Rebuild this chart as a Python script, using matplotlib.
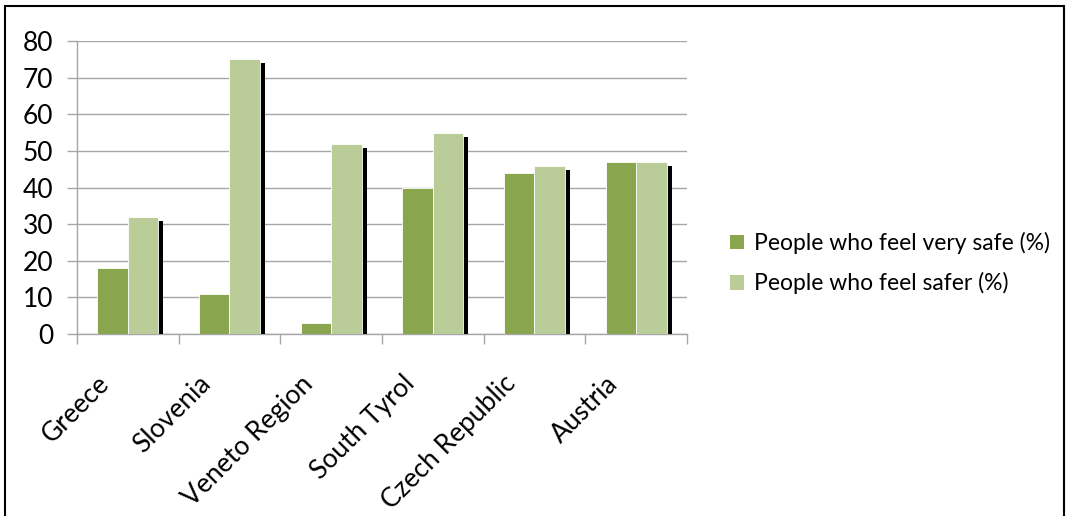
import matplotlib
matplotlib.use("Agg")
import matplotlib.pyplot as plt
import matplotlib.patheffects as pe
from matplotlib.patches import Rectangle, Patch
import numpy as np

plt.rcParams['font.family'] = ['Lato', 'DejaVu Sans']

categories = ['Greece', 'Slovenia', 'Veneto Region', 'South Tyrol', 'Czech Republic', 'Austria']
very_safe = [18, 11, 3, 40, 44, 47]
safer = [32, 75, 52, 55, 46, 47]
labels = ['People who feel very safe (%)', 'People who feel safer (%)']

dark_green = '#89A54E'
light_green = '#BACD98'
grid_col = '#A6A6A6'

fig = plt.figure(figsize=(10.66, 5.16), dpi=100)
ax = fig.add_axes([0.0722, 0.3527, 0.5722, 0.5678])

x = np.arange(len(categories))
w = 0.3
# drop shadow on every bar (the dark bar's shadow hides behind the light bar)
shadow = [pe.SimplePatchShadow(offset=(3.6, -2.9), shadow_rgbFace='black', alpha=1.0), pe.Normal()]

b1 = ax.bar(x - w / 2, very_safe, width=w, color=dark_green, edgecolor='white',
            linewidth=0.6, zorder=3)
b2 = ax.bar(x + w / 2, safer, width=w, color=light_green, edgecolor='white',
            linewidth=0.6, zorder=4)
for bar in list(b1) + list(b2):
    bar.set_path_effects(shadow)

ax.set_xlim(-0.5, len(categories) - 0.5)
ax.set_ylim(0, 80)
ax.set_yticks(range(0, 81, 10))
ax.yaxis.grid(True, color=grid_col, linewidth=1.0, zorder=0)
ax.set_axisbelow(True)

# labels sit a bit left of the category centre, like Excel does it
ax.set_xticks(x - 0.22)
ax.set_xticklabels(categories, rotation=45, ha='right', va='center',
                   rotation_mode='anchor', fontsize=19)
ax.set_xticks(np.arange(-0.5, len(categories)), minor=True)
ax.tick_params(axis='x', which='major', length=0, pad=33)
ax.tick_params(axis='x', which='minor', length=7.2, color=grid_col, width=1)
ax.tick_params(axis='y', length=7.2, color=grid_col, width=1, labelsize=19, pad=10)

for s in ['top', 'right']:
    ax.spines[s].set_visible(False)
for s in ['left', 'bottom']:
    ax.spines[s].set_color(grid_col)
    ax.spines[s].set_linewidth(1)

handles = [Patch(facecolor=dark_green, edgecolor='none'),
           Patch(facecolor=light_green, edgecolor='none')]
fig.legend(handles=handles, labels=labels, loc='center left',
           bbox_to_anchor=(0.685, 0.490), frameon=False, fontsize=16.5,
           borderaxespad=0, borderpad=0,
           handlelength=0.6, handleheight=0.6, handletextpad=0.45, labelspacing=0.8)

# outer chart border
fig.patches.append(Rectangle((0.005, -0.01), 0.993, 0.999, transform=fig.transFigure,
                             fill=False, edgecolor='black', linewidth=1.5))

fig.savefig('out.png', dpi=100)
